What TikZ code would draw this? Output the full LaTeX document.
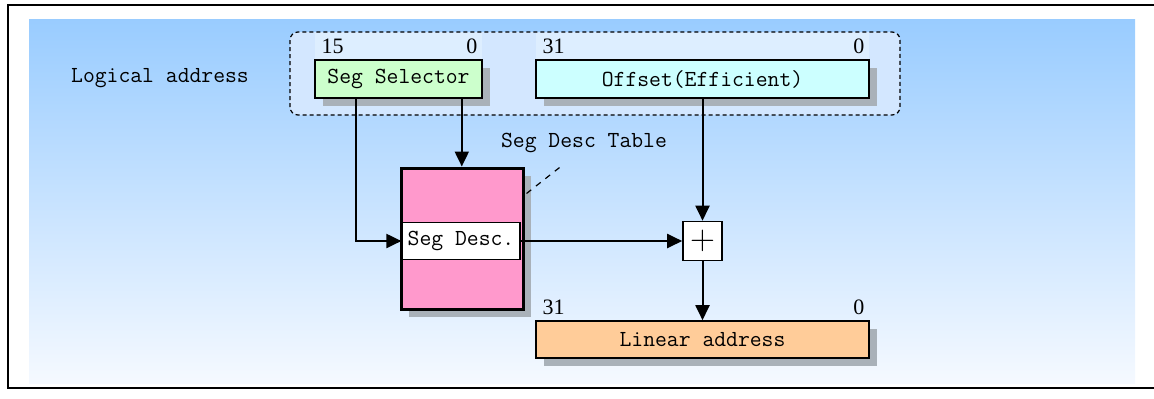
\documentclass[tikz,border=0pt]{standalone}
\usepackage{fontspec}
\setmainfont{Liberation Serif}
\usetikzlibrary{arrows.meta,shadows}
\usepackage{xcolor}
\definecolor{SelGreen}{HTML}{CCFFCC}
\definecolor{OffCyan}{HTML}{CCFFFF}
\definecolor{SegPink}{HTML}{FF99CC}
\definecolor{LinOrange}{HTML}{FFCC99}
\definecolor{ShadowGray}{HTML}{A9B1B9}
\definecolor{BgTop}{HTML}{99CCFF}
\definecolor{BgBottom}{HTML}{F5F9FF}
\definecolor{DashBlue}{HTML}{D3E7FF}
\definecolor{StripBlue}{HTML}{DDEEFF}

\newcommand{\monotext}{\ttfamily\fontsize{11.5}{13}\selectfont}

\tikzset{
  regbox/.style={draw=black,line width=0.8pt,minimum height=19pt,inner sep=0pt,
    font=\monotext,
    drop shadow={shadow xshift=4pt,shadow yshift=-4pt,fill=ShadowGray,opacity=1}},
  bitnum/.style={font=\rmfamily\fontsize{11}{12}\selectfont,inner sep=0pt},
  link/.style={line width=1pt,-{Triangle[length=7.5pt,width=7pt]}},
}

\begin{document}
\begin{tikzpicture}[x=0.5pt,y=-0.5pt,font=\monotext]
    \useasboundingbox (0,0) rectangle (1154,398);

    % frame and backdrop
    \draw[line width=1pt] (1160,5) -- (8,5) -- (8,388) -- (1160,388);
    \shade[top color=BgTop,bottom color=BgBottom] (29,19) rectangle (1135,383);

    % logical address group
    \draw[dashed,dash pattern=on 2pt off 1.5pt,line width=0.6pt,fill=DashBlue,
      rounded corners=4pt] (290,32) rectangle (900,115);
    \fill[StripBlue] (315,33) rectangle (482,60);
    \fill[StripBlue] (536,33) rectangle (869,60);
    \node (logical) at (160,78) {Logical address};

    \node[regbox,fill=SelGreen,minimum width=83.5pt] (sel) at (398.5,79) {Seg Selector};
    \node[regbox,fill=OffCyan,minimum width=166.5pt] (off) at (702.5,79) {Offset(Efficient)};

    % descriptor table
    \node[regbox,fill=SegPink,line width=1.5pt,minimum width=61pt,
      minimum height=70.5pt] (table) at (462,238.5) {};
    \node[draw,fill=white,line width=0.6pt,minimum width=59pt,minimum height=18.5pt,
      inner sep=0pt] (desc) at (461,241) {Seg Desc.};
    \node (tbllabel) at (584,143) {Seg Desc Table};
    \coordinate (tbltag) at (564,164);
    \draw[dashed,line width=0.6pt] ([xshift=1pt,yshift=-13.5pt]table.north east) -- (tbltag);

    % adder and linear address
    \node[draw,fill=white,line width=0.8pt,minimum size=19.5pt,inner sep=0pt,
      font=\LARGE] (plus) at (702.5,241) {$+$};
    \node[regbox,fill=LinOrange,minimum width=166.5pt,minimum height=18.5pt]
      (lin) at (702.5,339.5) {Linear address};

    % bit numbers
    \foreach \b/\h in {sel/15,off/31,lin/31}{
      \node[bitnum,anchor=south west] at ([xshift=3.5pt,yshift=2.5pt]\b.north west) {\h};
      \node[bitnum,anchor=south east] at ([xshift=-2.5pt,yshift=2.5pt]\b.north east) {0};
    }

    % connectors
    \coordinate (selL) at ([xshift=21pt]sel.south west);
    \coordinate (selR) at ([xshift=-10.5pt]sel.south east);
    \draw[link] (selL) |- (desc.west);
    \draw[link] (selR) -- (selR |- table.north);
    \draw[link] (off.south) -- (plus.north);
    \draw[link] (desc.east) -- (plus.west);
    \draw[link] (plus.south) -- (lin.north);
  \end{tikzpicture}
\end{document}
